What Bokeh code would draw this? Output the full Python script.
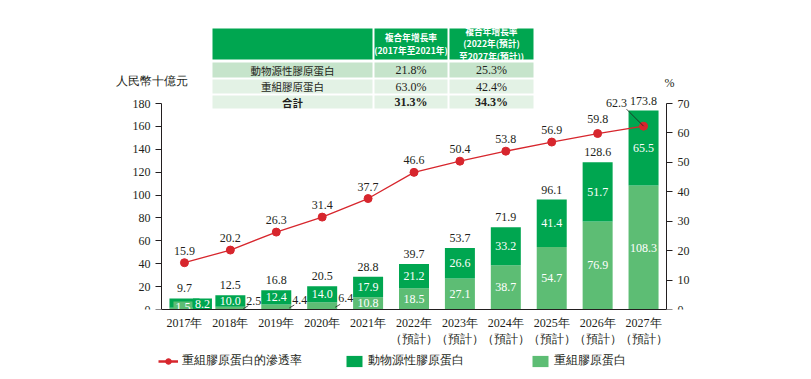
from bokeh.plotting import figure
from bokeh.models import (Range1d, LinearAxis, Legend, LegendItem,
                          ColumnDataSource, FixedTicker)
from bokeh.layouts import column
from bokeh.core.properties import value
from bokeh.embed import file_html
from bokeh.resources import INLINE

# ---------------- data ----------------
years = ["2017年", "2018年", "2019年", "2020年", "2021年", "2022年",
         "2023年", "2024年", "2025年", "2026年", "2027年"]
forecast_from = 5
animal = [8.2, 10.0, 12.4, 14.0, 17.9, 21.2, 26.6, 33.2, 41.4, 51.7, 65.5]
recomb = [1.5, 2.5, 4.4, 6.4, 10.8, 18.5, 27.1, 38.7, 54.7, 76.9, 108.3]
total = [9.7, 12.5, 16.8, 20.5, 28.8, 39.7, 53.7, 71.9, 96.1, 128.6, 173.8]
rate = [15.9, 20.2, 26.3, 31.4, 37.7, 46.6, 50.4, 53.8, 56.9, 59.8, 62.3]
left_ticks = [0, 20, 40, 60, 80, 100, 120, 140, 160, 180]
right_ticks = [0, 10, 20, 30, 40, 50, 60, 70]
legend_labels = ["重組膠原蛋白的滲透率", "動物源性膠原蛋白", "重組膠原蛋白"]

table_header = ["複合年增長率\n(2017年至2021年)",
                "複合年增長率\n(2022年(預計)\n至2027年(預計))"]
table_rows = ["動物源性膠原蛋白", "重組膠原蛋白", "合計"]
cagr_hist = ["21.8%", "63.0%", "31.3%"]
cagr_fcst = ["25.3%", "42.4%", "34.3%"]

# ---------------- style / layout ----------------
DARK = "#00A650"
LIGHT = "#5DBD74"
RED = "#D7262D"
TXT = "#231F20"
FONT = "Liberation Serif"
SERIF = value(FONT)
CJK = value("Noto Sans CJK TC")
FS = "12px"

W, H = 801, 350                 # main chart
LEG_H = 25                      # legend strip below it
AX_L, AX_R = 161, 666           # page px of left / right value axes
FRAME_L, FRAME_R = 110, 700     # frame extends beyond the axes (titles inside)
FRAME_T, FRAME_B = 20, 309
FRAME_W, FRAME_H = FRAME_R - FRAME_L, FRAME_B - FRAME_T
AXIS_PX = 206.0                 # pixels from 0 to top tick
N = len(years)
PX_X = (AX_R - AX_L) / N        # px per category
PX_Y = AXIS_PX / left_ticks[-1]
PX_R = AXIS_PX / right_ticks[-1]
Y_MAX = FRAME_H / PX_Y
R_MAX = FRAME_H / PX_R
X0 = -0.5 - (AX_L - FRAME_L) / PX_X
X1 = N - 0.5 + (FRAME_R - AX_R) / PX_X


def dx(px):   # page pixel -> x data
    return X0 + (px - FRAME_L) / PX_X


def dy(py):   # page pixel -> y data (left axis)
    return (FRAME_B - py) / PX_Y


p = figure(frame_width=FRAME_W, frame_height=FRAME_H,
           min_border_left=FRAME_L, min_border_top=FRAME_T,
           min_border_right=W - FRAME_R, min_border_bottom=H - FRAME_B,
           x_range=Range1d(X0, X1), y_range=Range1d(0, Y_MAX),
           output_backend="svg", toolbar_location=None,
           background_fill_color="white", border_fill_color="white")
p.outline_line_color = None
p.grid.visible = False
p.extra_y_ranges = {"pct": Range1d(0, R_MAX)}

xs = list(range(N))
stack_top = [r + a for r, a in zip(recomb, animal)]
src = ColumnDataSource(dict(x=xs, recomb=recomb, animal=animal, top=stack_top,
                            total=total, rate=rate))

# ---------------- table ----------------
cols = [(212, 372), (374, 447), (449, 533)]
hdr = (28, 59)
rows_px = [(62, 77), (79, 93), (95, 108)]
row_cols = ["#C6E4CB", "#E3F2E5", "#E3F2E5"]
for (l, r) in cols:
    p.quad(left=dx(l), right=dx(r), top=dy(hdr[0]), bottom=dy(hdr[1]),
           fill_color=DARK, line_color=None)
for (t, b), c in zip(rows_px, row_cols):
    for (l, r) in cols:
        p.quad(left=dx(l), right=dx(r), top=dy(t), bottom=dy(b),
               fill_color=c, line_color=None)
p.text(x=[dx((l + r) / 2) for (l, r) in cols[1:]],
       y=[dy(sum(hdr) / 2)] * 2, text=table_header,
       text_color="white", text_font=CJK,
       text_font_style="bold", text_font_size="8.7px", text_line_height=0.95,
       text_align="center", text_baseline="middle")
for i, ((t, b), name, h, f) in enumerate(zip(rows_px, table_rows, cagr_hist, cagr_fcst)):
    style = "bold" if i == 2 else "normal"
    p.text(x=[dx(sum(cols[0]) / 2)], y=[dy((t + b) / 2)], text=[name],
           text_color=TXT, text_font=CJK, text_font_style=style,
           text_font_size="10.5px", text_align="center", text_baseline="middle")
    p.text(x=[dx(sum(cols[1]) / 2), dx(sum(cols[2]) / 2)], y=[dy((t + b) / 2)] * 2,
           text=[h, f], text_color=TXT, text_font=SERIF, text_font_style=style,
           text_font_size="12px", text_align="center", text_baseline="middle")

# ---------------- bars ----------------
BW = 30 / PX_X
p.vbar(x="x", bottom=0, top="recomb", width=BW, source=src,
       fill_color=LIGHT, line_color=None)
p.vbar(x="x", bottom="recomb", top="top", width=BW, source=src,
       fill_color=DARK, line_color=None)

# dark segment labels (first one boxed, shifted right)
d_y = [r + a / 2 for r, a in zip(recomb, animal)]
p.text(x=[xs[0] + 18 / PX_X], y=[d_y[0] - 1.2], text=[f"{animal[0]:.1f}"],
       text_color="white", text_font=SERIF, text_font_size=FS, text_align="center",
       text_baseline="middle", background_fill_color=DARK, padding=2)
p.text(x=xs[1:], y=d_y[1:], text=[f"{v:.1f}" for v in animal[1:]], text_color="white",
       text_font=SERIF, text_font_size=FS, text_align="center", text_baseline="middle")

# light labels: first boxed inside, next three outside right, rest inside
p.text(x=[xs[0] - 1.5 / PX_X], y=[recomb[0] / 2 + 1.0], text=[f"{recomb[0]:.1f}"],
       text_color="white", text_font=SERIF, text_font_size=FS, text_align="center",
       text_baseline="middle", background_fill_color=LIGHT, padding=2)
out_idx = [1, 2, 3]
p.text(x=[xs[i] + BW / 2 + 1 / PX_X for i in out_idx],
       y=[recomb[i] / 2 + 6.5 for i in out_idx],
       text=[f"{recomb[i]:.1f}" for i in out_idx], text_color=TXT, text_font=SERIF,
       text_font_size=FS, text_align="left", text_baseline="middle")
p.segment(x0=[xs[i] + BW / 2 - 2 / PX_X for i in out_idx], y0=[recomb[i] * 0.3 for i in out_idx],
          x1=[xs[i] + BW / 2 + 3 / PX_X for i in out_idx], y1=[recomb[i] * 0.3 + 2.6 for i in out_idx],
          line_color=TXT, line_width=0.8)
in_idx = list(range(4, N))
p.text(x=[xs[i] for i in in_idx], y=[recomb[i] / 2 for i in in_idx],
       text=[f"{recomb[i]:.1f}" for i in in_idx], text_color="white", text_font=SERIF,
       text_font_size=FS, text_align="center", text_baseline="middle")

# totals
p.text(x=xs, y=total, text=[f"{v:.1f}" for v in total], text_color=TXT, text_font=SERIF,
       text_font_size=FS, text_align="center", text_baseline="middle", y_offset=-10)

# ---------------- line ----------------
p.line(x="x", y="rate", source=src, y_range_name="pct", line_color=RED, line_width=1.3)
p.scatter(x="x", y="rate", source=src, y_range_name="pct", size=8,
          fill_color=RED, line_color=RED)
last = N - 1
p.segment(x0=[xs[last]], y0=[rate[last]], x1=[xs[last] - 17 / PX_X],
          y1=[rate[last] + 17 / PX_R], y_range_name="pct", line_color=TXT, line_width=0.8)
p.text(x=xs, y=rate, text=[f"{v:.1f}" for v in rate], y_range_name="pct",
       x_offset=[0] * last + [-27], y_offset=[-12] * (last - 1) + [-15, -23],
       text_color=TXT, text_font=SERIF, text_font_size=FS, text_align="center",
       text_baseline="middle")

# ---------------- axes ----------------
ax = p.xaxis[0]
ax.ticker = FixedTicker(ticks=xs)
ax.bounds = (-0.5, N - 0.5)
ax.major_label_overrides = {i: (y if i < forecast_from else y + "\n（預計）")
                            for i, y in enumerate(years)}
ax.major_tick_out = 0
ax.major_tick_in = 0
ax.minor_tick_line_color = None
ax.axis_line_color = TXT
ax.major_label_text_font = FONT
ax.major_label_text_font_size = FS
ax.major_label_text_color = TXT
ax.major_label_standoff = 6
ax.major_label_text_line_height = 1.15

ly = p.yaxis[0]
ly.ticker = FixedTicker(ticks=left_ticks)
ly.bounds = (left_ticks[0], left_ticks[-1])
ly.fixed_location = -0.5
ry = LinearAxis(y_range_name="pct", ticker=FixedTicker(ticks=right_ticks),
                bounds=(right_ticks[0], right_ticks[-1]), fixed_location=N - 0.5)
p.add_layout(ry, "right")
for a in (ly, ry):
    a.major_tick_out = 6
    a.major_tick_in = 0
    a.minor_tick_line_color = None
    a.axis_line_color = TXT
    a.major_tick_line_color = TXT
    a.major_label_text_font = FONT
    a.major_label_text_font_size = FS
    a.major_label_text_color = TXT
    a.major_label_standoff = 5

p.text(x=[dx(151), dx(669)], y=[dy(80), dy(82)], text=["人民幣十億元", "%"],
       text_align="center", text_baseline="middle", text_font=SERIF,
       text_font_size="12px", text_color=TXT)

# ---------------- legend strip (own small figure, frame aligned with chart) --------
lg = figure(width=W, height=LEG_H, x_range=Range1d(0, 1), y_range=Range1d(0, 1),
            x_axis_type=None, y_axis_type=None, min_border=0,
            output_backend="svg", toolbar_location=None,
            background_fill_color="white", border_fill_color="white")
lg.outline_line_color = None
lg.grid.visible = False
off = dict(x=[-100], y=[-100])   # dummy renderers kept off-screen, legend only
r_line = lg.line(x="x", y="y", source=ColumnDataSource(off), line_color=RED, line_width=2.5)
r_dot = lg.scatter(x="x", y="y", source=ColumnDataSource(off), size=8,
                   fill_color=RED, line_color=RED)
r_dark = lg.vbar(x="x", top="y", width=1, source=ColumnDataSource(off),
                 fill_color=DARK, line_color=None)
r_light = lg.vbar(x="x", top="y", width=1, source=ColumnDataSource(off),
                  fill_color=LIGHT, line_color=None)
legend = Legend(items=[LegendItem(label=legend_labels[0], renderers=[r_line, r_dot]),
                       LegendItem(label=legend_labels[1], renderers=[r_dark]),
                       LegendItem(label=legend_labels[2], renderers=[r_light])],
                orientation="horizontal", location=(158 - FRAME_L, LEG_H - 11 - 7),
                border_line_color=None, background_fill_alpha=0,
                label_width=143, glyph_width=20, glyph_height=14, spacing=19,
                padding=0, margin=0, label_standoff=4,
                label_text_font=FONT, label_text_font_size="11.5px",
                label_text_color=TXT)
lg.add_layout(legend, "center")

layout = column(p, lg, spacing=0)
open("out.html", "w").write(file_html(layout, INLINE))
